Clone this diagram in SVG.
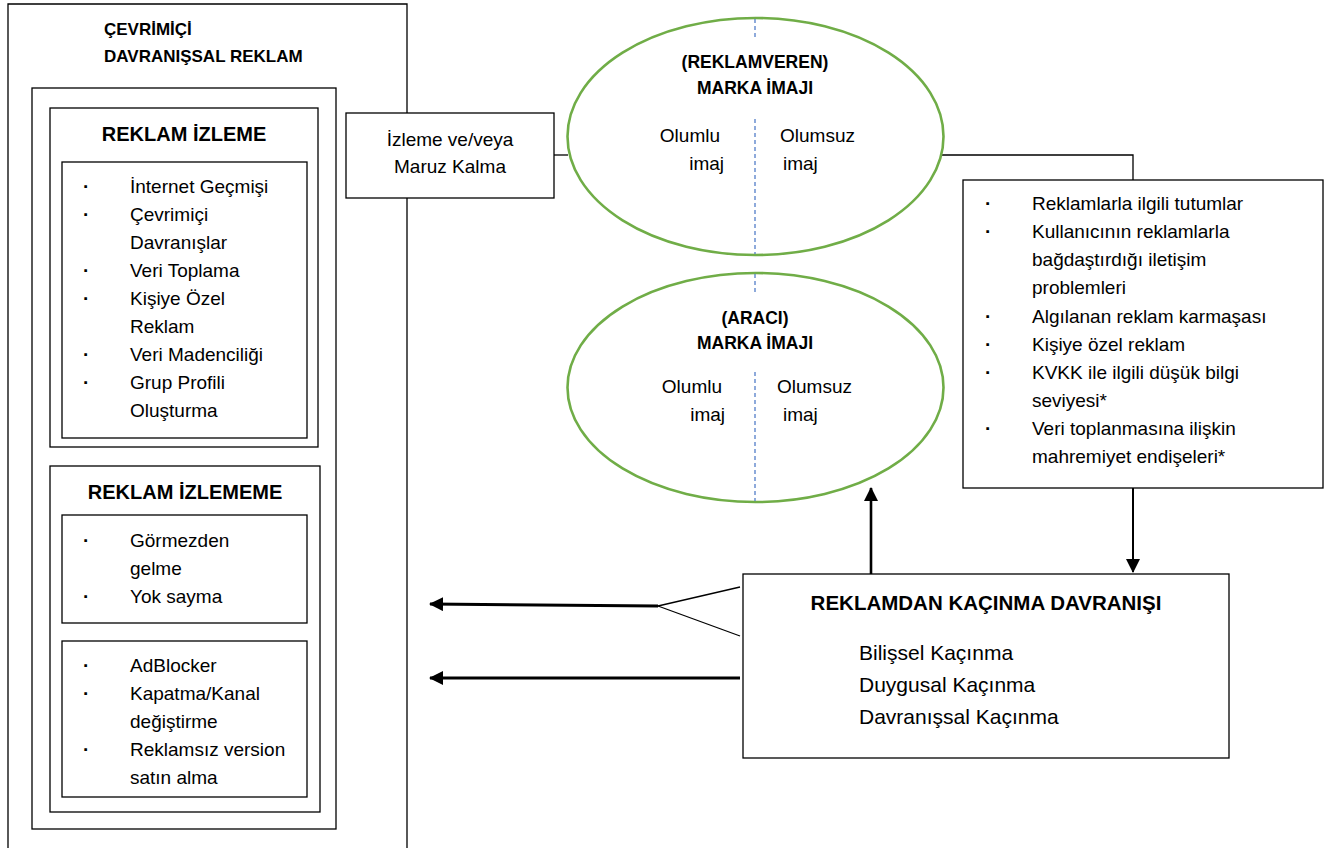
<svg xmlns="http://www.w3.org/2000/svg" width="1332" height="848" viewBox="0 0 1332 848">
<defs>
<style>
.box{fill:#fff;stroke:#000;stroke-width:1.3}
.t{font-family:"Liberation Sans",Arial,sans-serif;font-size:19px;fill:#000}
.big{font-family:"Liberation Sans",Arial,sans-serif;font-size:21px;fill:#000}
.b{font-family:"Liberation Sans",Arial,sans-serif;font-weight:bold;fill:#000}
.bul{font-family:"Liberation Sans",Arial,sans-serif;font-weight:bold;font-size:19px;fill:#000}
.ell{fill:#fff;stroke:#70AD47;stroke-width:2.6}
.dash{stroke:#4472C4;stroke-width:1.2;stroke-dasharray:4 3;fill:none}
.ln{stroke:#000;stroke-width:1.3;fill:none}
.arw{stroke:#000;fill:none}
</style>
<marker id="ah" markerUnits="userSpaceOnUse" markerWidth="14" markerHeight="14" viewBox="0 0 14 14" refX="13" refY="7" orient="auto">
<path d="M0,0 L14,7 L0,14 z" fill="#000"/>
</marker>
</defs>

<g id="online-behavioral-ad">
<path class="ln" d="M8,850 V4 H407 V850"/>
<text class="b" font-size="17" x="104" y="35">ÇEVRİMİÇİ</text>
<text class="b" font-size="17" x="104" y="62">DAVRANIŞSAL REKLAM</text>
<rect class="box" x="32" y="88" width="304" height="741"/>
</g>

<g id="reklam-izleme">
<rect class="box" x="50" y="108" width="268" height="339"/>
<text class="b" font-size="20" x="184" y="141" text-anchor="middle">REKLAM İZLEME</text>
<rect class="box" x="62" y="162" width="245" height="276"/>
<g class="bul"><text x="83" y="193">·</text><text x="83" y="221">·</text><text x="83" y="277">·</text><text x="83" y="305">·</text><text x="83" y="361">·</text><text x="83" y="389">·</text></g>
<g class="t">
<text x="130" y="193">İnternet Geçmişi</text>
<text x="130" y="221">Çevrimiçi</text>
<text x="130" y="249">Davranışlar</text>
<text x="130" y="277">Veri Toplama</text>
<text x="130" y="305">Kişiye Özel</text>
<text x="130" y="333">Reklam</text>
<text x="130" y="361">Veri Madenciliği</text>
<text x="130" y="389">Grup Profili</text>
<text x="130" y="417">Oluşturma</text>
</g>
</g>

<g id="reklam-izlememe">
<rect class="box" x="50" y="466" width="270" height="346"/>
<text class="b" font-size="20" x="185" y="499" text-anchor="middle">REKLAM İZLEMEME</text>
<rect class="box" x="62" y="515" width="245" height="108"/>
<g class="bul"><text x="83" y="547">·</text><text x="83" y="603">·</text></g>
<g class="t">
<text x="130" y="547">Görmezden</text>
<text x="130" y="575">gelme</text>
<text x="130" y="603">Yok sayma</text>
</g>
<rect class="box" x="62" y="641" width="245" height="156"/>
<g class="bul"><text x="83" y="672">·</text><text x="83" y="700">·</text><text x="83" y="756">·</text></g>
<g class="t">
<text x="130" y="672">AdBlocker</text>
<text x="130" y="700">Kapatma/Kanal</text>
<text x="130" y="728">değiştirme</text>
<text x="130" y="756">Reklamsız version</text>
<text x="130" y="784">satın alma</text>
</g>
</g>

<g id="izleme-maruz">
<rect class="box" x="346" y="113" width="208" height="85"/>
<text class="t" x="450" y="146" text-anchor="middle">İzleme ve/veya</text>
<text class="t" x="450" y="173" text-anchor="middle">Maruz Kalma</text>
</g>

<g id="connectors">
<line class="ln" x1="554" y1="155" x2="568" y2="155"/>
<path class="ln" d="M942,155 H1133 V180" stroke-width="1.6"/>
<line class="arw" x1="1133" y1="488" x2="1133" y2="572" stroke-width="2" marker-end="url(#ah)"/>
<line class="arw" x1="871" y1="574" x2="871" y2="488" stroke-width="2.6" marker-end="url(#ah)"/>
<line class="ln" x1="740" y1="587" x2="658" y2="606"/>
<line class="ln" x1="740" y1="636" x2="658" y2="606"/>
<line class="arw" x1="658" y1="606" x2="430" y2="604" stroke-width="3" marker-end="url(#ah)"/>
<line class="arw" x1="740" y1="678" x2="430" y2="678" stroke-width="3" marker-end="url(#ah)"/>
</g>

<g id="reklamveren-marka-imaji">
<ellipse class="ell" cx="755.5" cy="136.5" rx="188" ry="118.5"/>
<line class="dash" x1="755" y1="19" x2="755" y2="40"/>
<line class="dash" x1="755" y1="119" x2="755" y2="254"/>
<text class="b" font-size="17.5" x="755" y="68" text-anchor="middle">(REKLAMVEREN)</text>
<text class="b" font-size="17.5" x="755" y="94" text-anchor="middle">MARKA İMAJI</text>
<text class="t" x="720" y="142" text-anchor="end">Olumlu</text>
<text class="t" x="724" y="170" text-anchor="end">imaj</text>
<text class="t" x="780" y="142">Olumsuz</text>
<text class="t" x="783" y="170">imaj</text>
</g>

<g id="araci-marka-imaji">
<ellipse class="ell" cx="755.5" cy="387.5" rx="188" ry="114.5"/>
<line class="dash" x1="755" y1="274" x2="755" y2="294"/>
<line class="dash" x1="755" y1="372" x2="755" y2="501"/>
<text class="b" font-size="17.5" x="755" y="324" text-anchor="middle">(ARACI)</text>
<text class="b" font-size="17.5" x="755" y="349" text-anchor="middle">MARKA İMAJI</text>
<text class="t" x="722" y="393" text-anchor="end">Olumlu</text>
<text class="t" x="725" y="421" text-anchor="end">imaj</text>
<text class="t" x="777" y="393">Olumsuz</text>
<text class="t" x="783" y="421">imaj</text>
</g>

<g id="etkenler">
<rect class="box" x="963" y="180" width="360" height="308"/>
<g class="bul"><text x="985" y="210">·</text><text x="985" y="238">·</text><text x="985" y="323">·</text><text x="985" y="351">·</text><text x="985" y="379">·</text><text x="985" y="435">·</text></g>
<g class="t">
<text x="1032" y="210">Reklamlarla ilgili tutumlar</text>
<text x="1032" y="238">Kullanıcının reklamlarla</text>
<text x="1032" y="266">bağdaştırdığı iletişim</text>
<text x="1032" y="294">problemleri</text>
<text x="1032" y="323">Algılanan reklam karmaşası</text>
<text x="1032" y="351">Kişiye özel reklam</text>
<text x="1032" y="379">KVKK ile ilgili düşük bilgi</text>
<text x="1032" y="407">seviyesi*</text>
<text x="1032" y="435">Veri toplanmasına ilişkin</text>
<text x="1032" y="463">mahremiyet endişeleri*</text>
</g>
</g>

<g id="reklamdan-kacinma">
<rect class="box" x="743" y="574" width="486" height="184"/>
<text class="b" font-size="20.5" x="986" y="610" text-anchor="middle">REKLAMDAN KAÇINMA DAVRANIŞI</text>
<text class="big" x="859" y="660">Bilişsel Kaçınma</text>
<text class="big" x="859" y="692">Duygusal Kaçınma</text>
<text class="big" x="859" y="724">Davranışsal Kaçınma</text>
</g>
</svg>
